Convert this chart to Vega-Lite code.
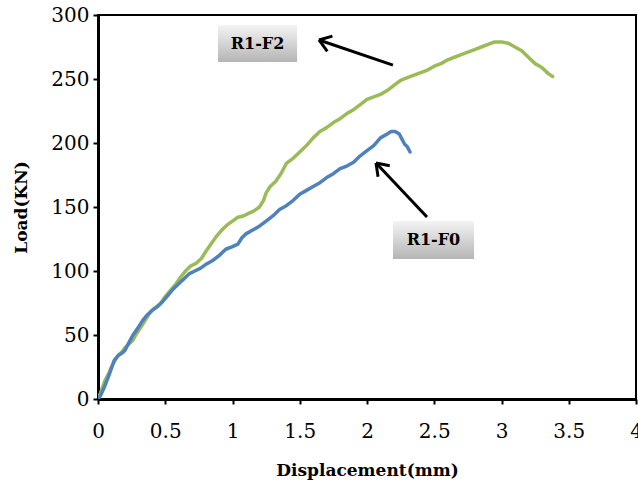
{
  "$schema": "https://vega.github.io/schema/vega-lite/v6.json",
  "width": 538,
  "height": 384,
  "autosize": {"type": "none"},
  "padding": {"left": 98, "top": 15, "right": 2, "bottom": 85},
  "background": "white",
  "config": {
    "view": {"stroke": "black", "strokeWidth": 2},
    "font": "DejaVu Serif",
    "axis": {
      "grid": false,
      "domainColor": "black",
      "domainWidth": 3,
      "tickColor": "black",
      "tickWidth": 2,
      "tickSize": 5,
      "labelFont": "DejaVu Serif",
      "labelFontSize": 20,
      "labelColor": "black",
      "titleFont": "DejaVu Serif",
      "titleFontSize": 17,
      "titleFontWeight": "bold",
      "titleColor": "black"
    }
  },
  "datasets": {
    "curves": [
      {"series": "R1-F2", "d": 0, "load": 0},
      {"series": "R1-F2", "d": 0.02, "load": 5},
      {"series": "R1-F2", "d": 0.05, "load": 14},
      {"series": "R1-F2", "d": 0.08, "load": 20},
      {"series": "R1-F2", "d": 0.1, "load": 25},
      {"series": "R1-F2", "d": 0.13, "load": 31},
      {"series": "R1-F2", "d": 0.15, "load": 34},
      {"series": "R1-F2", "d": 0.18, "load": 37},
      {"series": "R1-F2", "d": 0.2, "load": 40},
      {"series": "R1-F2", "d": 0.23, "load": 43},
      {"series": "R1-F2", "d": 0.26, "load": 46},
      {"series": "R1-F2", "d": 0.28, "load": 50},
      {"series": "R1-F2", "d": 0.3, "load": 53},
      {"series": "R1-F2", "d": 0.33, "load": 58},
      {"series": "R1-F2", "d": 0.36, "load": 63},
      {"series": "R1-F2", "d": 0.39, "load": 68},
      {"series": "R1-F2", "d": 0.42, "load": 71},
      {"series": "R1-F2", "d": 0.46, "load": 74},
      {"series": "R1-F2", "d": 0.5, "load": 80},
      {"series": "R1-F2", "d": 0.54, "load": 85},
      {"series": "R1-F2", "d": 0.58, "load": 90},
      {"series": "R1-F2", "d": 0.62, "load": 96},
      {"series": "R1-F2", "d": 0.66, "load": 101},
      {"series": "R1-F2", "d": 0.69, "load": 104},
      {"series": "R1-F2", "d": 0.73, "load": 106},
      {"series": "R1-F2", "d": 0.77, "load": 110},
      {"series": "R1-F2", "d": 0.8, "load": 115},
      {"series": "R1-F2", "d": 0.84, "load": 121},
      {"series": "R1-F2", "d": 0.88, "load": 127},
      {"series": "R1-F2", "d": 0.92, "load": 132},
      {"series": "R1-F2", "d": 0.96, "load": 136},
      {"series": "R1-F2", "d": 1.0, "load": 139},
      {"series": "R1-F2", "d": 1.04, "load": 142},
      {"series": "R1-F2", "d": 1.08, "load": 143},
      {"series": "R1-F2", "d": 1.12, "load": 145},
      {"series": "R1-F2", "d": 1.16, "load": 147},
      {"series": "R1-F2", "d": 1.2, "load": 150},
      {"series": "R1-F2", "d": 1.23, "load": 155},
      {"series": "R1-F2", "d": 1.25, "load": 161},
      {"series": "R1-F2", "d": 1.28, "load": 166},
      {"series": "R1-F2", "d": 1.32, "load": 170},
      {"series": "R1-F2", "d": 1.36, "load": 176},
      {"series": "R1-F2", "d": 1.4, "load": 184},
      {"series": "R1-F2", "d": 1.45, "load": 188},
      {"series": "R1-F2", "d": 1.5, "load": 193},
      {"series": "R1-F2", "d": 1.55, "load": 198},
      {"series": "R1-F2", "d": 1.6, "load": 204},
      {"series": "R1-F2", "d": 1.65, "load": 209},
      {"series": "R1-F2", "d": 1.7, "load": 212},
      {"series": "R1-F2", "d": 1.75, "load": 216},
      {"series": "R1-F2", "d": 1.8, "load": 219},
      {"series": "R1-F2", "d": 1.85, "load": 223},
      {"series": "R1-F2", "d": 1.9, "load": 226},
      {"series": "R1-F2", "d": 1.95, "load": 230},
      {"series": "R1-F2", "d": 2.0, "load": 234},
      {"series": "R1-F2", "d": 2.05, "load": 236},
      {"series": "R1-F2", "d": 2.1, "load": 238},
      {"series": "R1-F2", "d": 2.15, "load": 241},
      {"series": "R1-F2", "d": 2.2, "load": 245},
      {"series": "R1-F2", "d": 2.25, "load": 249},
      {"series": "R1-F2", "d": 2.3, "load": 251},
      {"series": "R1-F2", "d": 2.35, "load": 253},
      {"series": "R1-F2", "d": 2.4, "load": 255},
      {"series": "R1-F2", "d": 2.45, "load": 257},
      {"series": "R1-F2", "d": 2.5, "load": 260},
      {"series": "R1-F2", "d": 2.55, "load": 262},
      {"series": "R1-F2", "d": 2.6, "load": 265},
      {"series": "R1-F2", "d": 2.65, "load": 267},
      {"series": "R1-F2", "d": 2.7, "load": 269},
      {"series": "R1-F2", "d": 2.75, "load": 271},
      {"series": "R1-F2", "d": 2.8, "load": 273},
      {"series": "R1-F2", "d": 2.85, "load": 275},
      {"series": "R1-F2", "d": 2.9, "load": 277},
      {"series": "R1-F2", "d": 2.95, "load": 279},
      {"series": "R1-F2", "d": 3.0, "load": 279},
      {"series": "R1-F2", "d": 3.05, "load": 278},
      {"series": "R1-F2", "d": 3.1, "load": 275},
      {"series": "R1-F2", "d": 3.15, "load": 272},
      {"series": "R1-F2", "d": 3.2, "load": 267},
      {"series": "R1-F2", "d": 3.25, "load": 262},
      {"series": "R1-F2", "d": 3.3, "load": 259},
      {"series": "R1-F2", "d": 3.35, "load": 254},
      {"series": "R1-F2", "d": 3.38, "load": 252},
      {"series": "R1-F0", "d": 0, "load": 0},
      {"series": "R1-F0", "d": 0.02, "load": 3},
      {"series": "R1-F0", "d": 0.05, "load": 10},
      {"series": "R1-F0", "d": 0.08, "load": 18},
      {"series": "R1-F0", "d": 0.1, "load": 24},
      {"series": "R1-F0", "d": 0.12, "load": 30},
      {"series": "R1-F0", "d": 0.15, "load": 34},
      {"series": "R1-F0", "d": 0.18, "load": 36},
      {"series": "R1-F0", "d": 0.2, "load": 38},
      {"series": "R1-F0", "d": 0.23, "load": 44},
      {"series": "R1-F0", "d": 0.26, "load": 50},
      {"series": "R1-F0", "d": 0.28, "load": 53},
      {"series": "R1-F0", "d": 0.3, "load": 56},
      {"series": "R1-F0", "d": 0.33, "load": 61},
      {"series": "R1-F0", "d": 0.36, "load": 65},
      {"series": "R1-F0", "d": 0.4, "load": 69},
      {"series": "R1-F0", "d": 0.44, "load": 72},
      {"series": "R1-F0", "d": 0.48, "load": 76},
      {"series": "R1-F0", "d": 0.52, "load": 81},
      {"series": "R1-F0", "d": 0.56, "load": 86},
      {"series": "R1-F0", "d": 0.6, "load": 90},
      {"series": "R1-F0", "d": 0.64, "load": 94},
      {"series": "R1-F0", "d": 0.68, "load": 98},
      {"series": "R1-F0", "d": 0.72, "load": 100},
      {"series": "R1-F0", "d": 0.76, "load": 102},
      {"series": "R1-F0", "d": 0.8, "load": 105},
      {"series": "R1-F0", "d": 0.85, "load": 108},
      {"series": "R1-F0", "d": 0.9, "load": 112},
      {"series": "R1-F0", "d": 0.95, "load": 117},
      {"series": "R1-F0", "d": 1.0, "load": 119},
      {"series": "R1-F0", "d": 1.04, "load": 121},
      {"series": "R1-F0", "d": 1.07, "load": 126},
      {"series": "R1-F0", "d": 1.1, "load": 129},
      {"series": "R1-F0", "d": 1.15, "load": 132},
      {"series": "R1-F0", "d": 1.2, "load": 135},
      {"series": "R1-F0", "d": 1.25, "load": 139},
      {"series": "R1-F0", "d": 1.3, "load": 143},
      {"series": "R1-F0", "d": 1.35, "load": 148},
      {"series": "R1-F0", "d": 1.4, "load": 151},
      {"series": "R1-F0", "d": 1.45, "load": 155},
      {"series": "R1-F0", "d": 1.5, "load": 160},
      {"series": "R1-F0", "d": 1.55, "load": 163},
      {"series": "R1-F0", "d": 1.6, "load": 166},
      {"series": "R1-F0", "d": 1.65, "load": 169},
      {"series": "R1-F0", "d": 1.7, "load": 173},
      {"series": "R1-F0", "d": 1.75, "load": 176},
      {"series": "R1-F0", "d": 1.8, "load": 180},
      {"series": "R1-F0", "d": 1.85, "load": 182},
      {"series": "R1-F0", "d": 1.9, "load": 185},
      {"series": "R1-F0", "d": 1.95, "load": 190},
      {"series": "R1-F0", "d": 2.0, "load": 194},
      {"series": "R1-F0", "d": 2.05, "load": 198},
      {"series": "R1-F0", "d": 2.1, "load": 204},
      {"series": "R1-F0", "d": 2.15, "load": 207},
      {"series": "R1-F0", "d": 2.18, "load": 209},
      {"series": "R1-F0", "d": 2.21, "load": 209},
      {"series": "R1-F0", "d": 2.24, "load": 207},
      {"series": "R1-F0", "d": 2.26, "load": 203},
      {"series": "R1-F0", "d": 2.28, "load": 199},
      {"series": "R1-F0", "d": 2.3, "load": 197},
      {"series": "R1-F0", "d": 2.32, "load": 193}
    ],
    "boxes": [
      {"label": "R1-F2", "x1": 0.892, "x2": 1.48, "y1": 263.3, "y2": 292.2, "tx": 1.186, "ty": 277},
      {"label": "R1-F0", "x1": 2.193, "x2": 2.796, "y1": 109.4, "y2": 139.1, "tx": 2.494, "ty": 124}
    ],
    "arrows": [
      {"x1": 2.193, "y1": 260.9, "x2": 1.643, "y2": 280.5},
      {"x1": 1.705, "y1": 271.6, "x2": 1.643, "y2": 280.5},
      {"x1": 1.743, "y1": 283.5, "x2": 1.643, "y2": 280.5},
      {"x1": 2.446, "y1": 142.2, "x2": 2.067, "y2": 184.4},
      {"x1": 2.082, "y1": 173.6, "x2": 2.067, "y2": 184.4},
      {"x1": 2.169, "y1": 182.2, "x2": 2.067, "y2": 184.4}
    ]
  },
  "layer": [
    {
      "data": {"name": "curves"},
      "mark": {"type": "line", "strokeWidth": 3.5, "strokeCap": "round", "strokeJoin": "round", "clip": true},
      "encoding": {
        "x": {
          "field": "d", "type": "quantitative",
          "scale": {"domain": [0, 4], "nice": false},
          "axis": {
            "title": "Displacement(mm)",
            "values": [0, 0.5, 1, 1.5, 2, 2.5, 3, 3.5, 4],
            "format": "~g",
            "labelPadding": 17,
            "titleX": 269, "titleY": 71, "titleBaseline": "middle",
            "labelFlush": false
          }
        },
        "y": {
          "field": "load", "type": "quantitative",
          "scale": {"domain": [0, 300], "nice": false},
          "axis": {
            "title": "Load(KN)",
            "values": [0, 50, 100, 150, 200, 250, 300],
            "labelPadding": 4,
            "titleX": -77, "titleY": 192, "titleAngle": -90,
            "titleAlign": "center", "titleBaseline": "middle",
            "labelFlush": false
          }
        },
        "color": {
          "field": "series", "type": "nominal",
          "scale": {"domain": ["R1-F0", "R1-F2"], "range": ["#4F81BD", "#9BBB59"]},
          "legend": null
        },
        "detail": {"field": "series"}
      }
    },
    {
      "data": {"name": "boxes"},
      "mark": {
        "type": "rect",
        "color": {
          "gradient": "linear", "x1": 0, "y1": 0, "x2": 0, "y2": 1,
          "stops": [{"offset": 0, "color": "#f4f4f4"}, {"offset": 1, "color": "#b5b5b5"}]
        }
      },
      "encoding": {
        "x": {"field": "x1", "type": "quantitative"},
        "x2": {"field": "x2"},
        "y": {"field": "y1", "type": "quantitative"},
        "y2": {"field": "y2"}
      }
    },
    {
      "data": {"name": "boxes"},
      "mark": {"type": "text", "font": "DejaVu Serif", "fontSize": 16, "fontWeight": "bold", "color": "black", "align": "center", "baseline": "middle"},
      "encoding": {
        "x": {"field": "tx", "type": "quantitative"},
        "y": {"field": "ty", "type": "quantitative"},
        "text": {"field": "label"}
      }
    },
    {
      "data": {"name": "arrows"},
      "mark": {"type": "rule", "color": "black", "strokeWidth": 3, "strokeCap": "butt"},
      "encoding": {
        "x": {"field": "x1", "type": "quantitative"},
        "y": {"field": "y1", "type": "quantitative"},
        "x2": {"field": "x2"},
        "y2": {"field": "y2"}
      }
    }
  ]
}
